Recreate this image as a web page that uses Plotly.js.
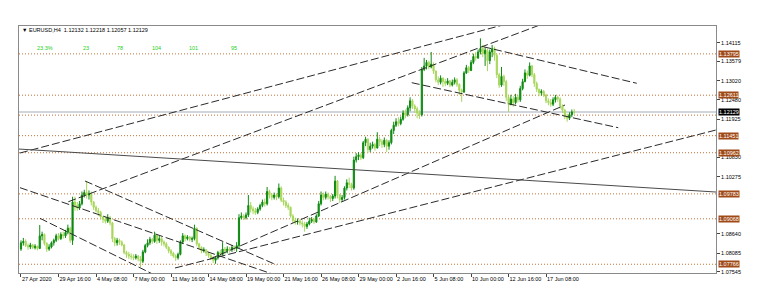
<!DOCTYPE html>
<html>
<head>
<meta charset="utf-8">
<script src="https://cdn.plot.ly/plotly-3.0.1.min.js"></script>
<style>html,body{margin:0;padding:0;background:#fff;}#chart{width:759px;height:304px;}</style>
</head>
<body>
<div id="chart"></div>
<script>
// EURUSD H4 bars, 27 Apr 2020 00:00 .. 19 Jun 2020 08:00 (bar index 0..236)
var open = [1.0820,1.0838,1.0842,1.0830,1.0826,1.0832,1.0824,1.0828,1.0822,1.0858,
1.0862,1.0836,1.0820,1.0826,1.0838,1.0845,1.0858,1.0850,1.0862,1.0858,
1.0868,1.0880,1.0845,1.0955,1.0945,1.0938,1.0950,1.0975,1.0982,1.0975,
1.0978,1.0955,1.0940,1.0930,1.0925,1.0912,1.0905,1.0900,1.0910,1.0895,
1.0850,1.0838,1.0845,1.0840,1.0832,1.0810,1.0805,1.0800,1.0798,1.0795,
1.0800,1.0792,1.0785,1.0812,1.0830,1.0838,1.0848,1.0842,1.0860,1.0845,
1.0850,1.0840,1.0835,1.0825,1.0815,1.0808,1.0800,1.0795,1.0805,1.0840,
1.0858,1.0850,1.0855,1.0848,1.0850,1.0880,1.0835,1.0825,1.0815,1.0818,
1.0808,1.0802,1.0795,1.0788,1.0795,1.0810,1.0805,1.0820,1.0815,1.0820,
1.0818,1.0825,1.0822,1.0830,1.0910,1.0915,1.0910,1.0918,1.0945,1.0935,
1.0930,1.0925,1.0935,1.0945,1.0955,1.0950,1.0985,1.0975,1.0968,1.0975,
1.0970,1.0995,1.0960,1.0955,1.0945,1.0940,1.0915,1.0902,1.0898,1.0900,
1.0895,1.0892,1.0885,1.0892,1.0900,1.0905,1.0898,1.0915,1.0950,1.0975,
1.0968,1.0978,1.0970,1.0965,1.0972,1.1015,1.0975,1.0962,1.0968,1.0995,
1.1010,1.1005,1.0995,1.1075,1.1085,1.1090,1.1082,1.1125,1.1135,1.1105,
1.1115,1.1120,1.1110,1.1135,1.1128,1.1120,1.1132,1.1115,1.1125,1.1160,
1.1175,1.1185,1.1180,1.1192,1.1210,1.1205,1.1225,1.1245,1.1230,1.1222,
1.1210,1.1205,1.1335,1.1345,1.1355,1.1342,1.1350,1.1330,1.1305,1.1298,
1.1310,1.1300,1.1295,1.1302,1.1290,1.1298,1.1305,1.1292,1.1275,1.1270,
1.1325,1.1340,1.1332,1.1355,1.1372,1.1368,1.1385,1.1395,1.1380,1.1390,
1.1360,1.1385,1.1395,1.1375,1.1320,1.1290,1.1315,1.1300,1.1255,1.1235,
1.1250,1.1240,1.1255,1.1248,1.1280,1.1300,1.1325,1.1318,1.1345,1.1320,
1.1295,1.1278,1.1268,1.1272,1.1262,1.1245,1.1240,1.1235,1.1248,1.1255,
1.1250,1.1230,1.1218,1.1200,1.1195,1.1205,1.12132];

var high = [1.0845,1.0852,1.0848,1.0836,1.0838,1.0835,1.0834,1.0830,1.0889,1.0870,
1.0865,1.0840,1.0834,1.0842,1.0850,1.0864,1.0866,1.0868,1.0870,1.0875,
1.0890,1.0884,1.0970,1.0970,1.0955,1.0958,1.0985,1.0990,1.1015,1.0988,
1.0985,1.0958,1.0945,1.0938,1.0930,1.0915,1.0912,1.0920,1.0915,1.0898,
1.0855,1.0852,1.0850,1.0845,1.0835,1.0815,1.0812,1.0808,1.0805,1.0806,
1.0803,1.0800,1.0818,1.0835,1.0848,1.0855,1.0852,1.0870,1.0862,1.0858,
1.0855,1.0845,1.0840,1.0828,1.0820,1.0812,1.0805,1.0810,1.0845,1.0866,
1.0862,1.0860,1.0858,1.0856,1.0890,1.0882,1.0838,1.0828,1.0825,1.0820,
1.0812,1.0806,1.0800,1.0800,1.0815,1.0818,1.0840,1.0826,1.0828,1.0826,
1.0832,1.0830,1.0840,1.0920,1.0925,1.0920,1.0925,1.0975,1.0955,1.0942,
1.0938,1.0940,1.0950,1.0962,1.0965,1.0998,1.0990,1.0980,1.0982,1.0980,
1.1008,1.1000,1.0968,1.0960,1.0952,1.0942,1.0920,1.0910,1.0908,1.0905,
1.0902,1.0898,1.0898,1.0910,1.0912,1.0910,1.0920,1.0958,1.0985,1.0982,
1.0985,1.0982,1.0975,1.0978,1.1030,1.1018,1.0978,1.0975,1.1000,1.1020,
1.1025,1.1010,1.1085,1.1095,1.1098,1.1095,1.1130,1.1142,1.1138,1.1125,
1.1128,1.1125,1.1155,1.1142,1.1135,1.1140,1.1135,1.1132,1.1165,1.1185,
1.1195,1.1198,1.1200,1.1218,1.1220,1.1232,1.1255,1.1250,1.1235,1.1228,
1.1218,1.1342,1.1368,1.1362,1.1360,1.1385,1.1355,1.1332,1.1315,1.1318,
1.1312,1.1308,1.1310,1.1305,1.1306,1.1312,1.1310,1.1295,1.1280,1.1330,
1.1348,1.1345,1.1362,1.1380,1.1385,1.1392,1.1424,1.1405,1.1398,1.1395,
1.1392,1.1405,1.1400,1.1380,1.1325,1.1342,1.1320,1.1305,1.1260,1.1262,
1.1258,1.1265,1.1262,1.1288,1.1308,1.1335,1.1332,1.1355,1.1348,1.1325,
1.1300,1.1280,1.1278,1.1276,1.1265,1.1252,1.1250,1.1255,1.1262,1.1260,
1.1255,1.1235,1.1222,1.1208,1.1212,1.1220,1.12218];

var low = [1.0815,1.0830,1.0826,1.0818,1.0820,1.0820,1.0819,1.0816,1.0820,1.0845,
1.0830,1.0812,1.0815,1.0822,1.0830,1.0840,1.0845,1.0846,1.0850,1.0852,
1.0862,1.0838,1.0832,1.0930,1.0930,1.0932,1.0945,1.0968,1.0965,1.0962,
1.0945,1.0932,1.0925,1.0915,1.0905,1.0895,1.0893,1.0895,1.0888,1.0840,
1.0828,1.0830,1.0832,1.0828,1.0805,1.0795,1.0792,1.0790,1.0788,1.0790,
1.0785,1.0768,1.0780,1.0808,1.0825,1.0832,1.0835,1.0838,1.0835,1.0838,
1.0830,1.0828,1.0820,1.0808,1.0800,1.0795,1.0786,1.0790,1.0802,1.0835,
1.0842,1.0845,1.0842,1.0840,1.0845,1.0828,1.0818,1.0808,1.0810,1.0800,
1.0795,1.0790,1.0780,1.0778,1.0790,1.0798,1.0802,1.0806,1.0808,1.0810,
1.0812,1.0815,1.0812,1.0822,1.0905,1.0903,1.0905,1.0912,1.0925,1.0920,
1.0918,1.0920,1.0930,1.0940,1.0942,1.0945,1.0965,1.0960,1.0962,1.0960,
1.0965,1.0955,1.0945,1.0938,1.0932,1.0910,1.0895,1.0890,1.0890,1.0888,
1.0882,1.0870,1.0878,1.0888,1.0895,1.0892,1.0895,1.0912,1.0945,1.0960,
1.0962,1.0962,1.0955,1.0958,1.0965,1.0965,1.0952,1.0955,1.0962,1.0988,
1.0995,1.0988,1.0990,1.1068,1.1075,1.1075,1.1078,1.1115,1.1095,1.1098,
1.1108,1.1102,1.1108,1.1115,1.1110,1.1112,1.1098,1.1105,1.1120,1.1150,
1.1170,1.1172,1.1175,1.1188,1.1195,1.1200,1.1215,1.1222,1.1210,1.1195,
1.1193,1.1200,1.1330,1.1335,1.1335,1.1338,1.1322,1.1298,1.1290,1.1292,
1.1285,1.1287,1.1290,1.1284,1.1286,1.1292,1.1285,1.1262,1.1242,1.1268,
1.1322,1.1325,1.1330,1.1350,1.1360,1.1365,1.1378,1.1370,1.1345,1.1330,
1.1350,1.1370,1.1360,1.1310,1.1282,1.1285,1.1288,1.1245,1.1213,1.1232,
1.1228,1.1235,1.1240,1.1242,1.1275,1.1298,1.1308,1.1315,1.1312,1.1285,
1.1270,1.1258,1.1260,1.1256,1.1238,1.1232,1.1228,1.1230,1.1240,1.1242,
1.1222,1.1210,1.1192,1.1185,1.1190,1.1198,1.12057];

var close = [1.0838,1.0842,1.0830,1.0826,1.0832,1.0824,1.0828,1.0822,1.0858,1.0862,
1.0836,1.0820,1.0826,1.0838,1.0845,1.0858,1.0850,1.0862,1.0858,1.0868,
1.0880,1.0845,1.0955,1.0945,1.0938,1.0950,1.0975,1.0982,1.0975,1.0978,
1.0955,1.0940,1.0930,1.0925,1.0912,1.0905,1.0900,1.0910,1.0895,1.0850,
1.0838,1.0845,1.0840,1.0832,1.0810,1.0805,1.0800,1.0798,1.0795,1.0800,
1.0792,1.0785,1.0812,1.0830,1.0838,1.0848,1.0842,1.0860,1.0845,1.0850,
1.0840,1.0835,1.0825,1.0815,1.0808,1.0800,1.0795,1.0805,1.0840,1.0858,
1.0850,1.0855,1.0848,1.0850,1.0880,1.0835,1.0825,1.0815,1.0818,1.0808,
1.0802,1.0795,1.0788,1.0795,1.0810,1.0805,1.0820,1.0815,1.0820,1.0818,
1.0825,1.0822,1.0830,1.0910,1.0915,1.0910,1.0918,1.0945,1.0935,1.0930,
1.0925,1.0935,1.0945,1.0955,1.0950,1.0985,1.0975,1.0968,1.0975,1.0970,
1.0995,1.0960,1.0955,1.0945,1.0940,1.0915,1.0902,1.0898,1.0900,1.0895,
1.0892,1.0885,1.0892,1.0900,1.0905,1.0898,1.0915,1.0950,1.0975,1.0968,
1.0978,1.0970,1.0965,1.0972,1.1015,1.0975,1.0962,1.0968,1.0995,1.1010,
1.1005,1.0995,1.1075,1.1085,1.1090,1.1082,1.1125,1.1135,1.1105,1.1115,
1.1120,1.1110,1.1135,1.1128,1.1120,1.1132,1.1115,1.1125,1.1160,1.1175,
1.1185,1.1180,1.1192,1.1210,1.1205,1.1225,1.1245,1.1230,1.1222,1.1210,
1.1205,1.1335,1.1345,1.1355,1.1342,1.1350,1.1330,1.1305,1.1298,1.1310,
1.1300,1.1295,1.1302,1.1290,1.1298,1.1305,1.1292,1.1275,1.1270,1.1325,
1.1340,1.1332,1.1355,1.1372,1.1368,1.1385,1.1395,1.1380,1.1390,1.1360,
1.1385,1.1395,1.1375,1.1320,1.1290,1.1315,1.1300,1.1255,1.1235,1.1250,
1.1240,1.1255,1.1248,1.1280,1.1300,1.1325,1.1318,1.1345,1.1320,1.1295,
1.1278,1.1268,1.1272,1.1262,1.1245,1.1240,1.1235,1.1248,1.1255,1.1250,
1.1230,1.1218,1.1200,1.1195,1.1205,1.1213,1.12129];

// time axis labels (every 16 H4 bars)
var tickBars = [0,16,32,48,64,80,96,112,128,144,160,176,192,208,224];
var tickLabels = ['27 Apr 2020','29 Apr 16:00','4 May 08:00','7 May 00:00','11 May 16:00',
  '14 May 08:00','19 May 00:00','21 May 16:00','26 May 08:00','29 May 00:00',
  '2 Jun 16:00','5 Jun 08:00','10 Jun 00:00','12 Jun 16:00','17 Jun 08:00'];

// price scale labels
var priceTicks = [1.14115,1.13579,1.13020,1.12480,1.11925,1.10830,1.10275,1.08640,1.08085,1.07545];

// horizontal levels (dotted) with price tags
var levelPrices = [1.13795,1.12611,1.11451,1.10962,1.09783,1.09068,1.07766];
var hiddenLevel = [1.12040];
var lastPrice = 1.12129;

// trend lines: [barIndex0, price0, barIndex1, price1]
var dashedLines = [
  [-0.43,1.10954,205.6,1.14623],
  [20.2,1.09558,221.4,1.14623],
  [80.6,1.07916,232.1,1.12330],
  [65.7,1.07658,296.5,1.11613],
  [-0.43,1.09960,107.6,1.07478],
  [27.3,1.10152,109.1,1.07744],
  [8.1,1.09082,56.4,1.07478],
  [197.2,1.14001,262.7,1.12952],
  [166.7,1.12969,254.8,1.11679]
];
var solidLines = [[-1.28,1.11069,296.5,1.09836]];

// indicator texts
var greenTexts = ['23.3%','23','78','104','101','95'];
var greenPos = [45,86,120,156,193,234];

var headerText = '\u25BC EURUSD,H4  1.12132 1.12218 1.12057 1.12129';

var FONT = 'Liberation Sans, Arial, sans-serif';
var L = 19, R = 716, T = 26, B = 273;

var idx = close.map(function(_, i){ return i; });

var traces = [];
dashedLines.forEach(function(s){
  traces.push({type:'scatter', mode:'lines', x:[s[0],s[2]], y:[s[1],s[3]],
    line:{color:'#2a2a2a', width:1, dash:'8px,3px'}, hoverinfo:'skip'});
});
solidLines.forEach(function(s){
  traces.push({type:'scatter', mode:'lines', x:[s[0],s[2]], y:[s[1],s[3]],
    line:{color:'#4a4a4a', width:1}, hoverinfo:'skip'});
});
traces.push({
  type:'candlestick', x:idx, open:open, high:high, low:low, close:close,
  increasing:{line:{color:'#0f8a12', width:1}, fillcolor:'#0f8a12'},
  decreasing:{line:{color:'#a8d65c', width:1}, fillcolor:'#a8d65c'},
  whiskerwidth:0, hoverinfo:'skip'
});

var shapes = [];
levelPrices.concat(hiddenLevel).forEach(function(p){
  shapes.push({type:'line', xref:'paper', x0:0, x1:1, yref:'y', y0:p, y1:p,
    line:{color:'#c47238', width:1, dash:'1px,2px'}, layer:'below'});
});
shapes.push({type:'line', xref:'paper', x0:0, x1:1, yref:'y', y0:lastPrice, y1:lastPrice,
  line:{color:'#a3adbb', width:1}, layer:'below'});

var annotations = [];
levelPrices.forEach(function(p){
  annotations.push({xref:'paper', x:1, xanchor:'left', xshift:2, yref:'y', y:p, yanchor:'middle',
    text:p.toFixed(5), showarrow:false, bgcolor:'#a04a18', borderpad:0,
    font:{family:FONT, size:5.5, color:'#ffffff'}});
});
annotations.push({xref:'paper', x:1, xanchor:'left', xshift:2, yref:'y', y:lastPrice, yanchor:'middle',
  text:lastPrice.toFixed(5), showarrow:false, bgcolor:'#000000', borderpad:0,
  font:{family:FONT, size:5.5, color:'#ffffff'}});
greenTexts.forEach(function(t, i){
  annotations.push({xref:'paper', x:(greenPos[i]-L)/(R-L), xanchor:'center',
    yref:'paper', y:(B-47.5)/(B-T), yanchor:'middle', text:t, showarrow:false,
    font:{family:FONT, size:5.5, color:'#22d022'}});
});

var layout = {
  width:759, height:304,
  margin:{l:L, r:759-R, t:T, b:304-B, pad:0},
  paper_bgcolor:'#ffffff', plot_bgcolor:'#ffffff',
  showlegend:false,
  title:{text:headerText, xref:'container', x:22/759, xanchor:'left',
    yref:'container', y:1-30.5/304, yanchor:'middle',
    font:{family:FONT, size:5.5, color:'#000000'}},
  xaxis:{range:[-0.85,296.5], tickvals:tickBars, ticktext:tickLabels,
    ticks:'outside', ticklen:3, tickcolor:'#444', tickwidth:1, tickangle:0,
    ticklabelposition:'outside right',
    showgrid:false, zeroline:false, showline:true, linecolor:'#8a8a8a', linewidth:1, mirror:true,
    tickfont:{family:FONT, size:5.5, color:'#000'},
    rangeslider:{visible:false}, fixedrange:true},
  yaxis:{side:'right', range:[1.07515,1.14594], tickvals:priceTicks, tickformat:'.5f',
    ticks:'outside', ticklen:3, tickcolor:'#444', tickwidth:1,
    showgrid:false, zeroline:false, showline:true, linecolor:'#8a8a8a', linewidth:1, mirror:true,
    tickfont:{family:FONT, size:5.5, color:'#000'}, fixedrange:true},
  shapes:shapes,
  annotations:annotations
};

Plotly.newPlot('chart', traces, layout, {displayModeBar:false, staticPlot:true});
</script>
</body>
</html>
